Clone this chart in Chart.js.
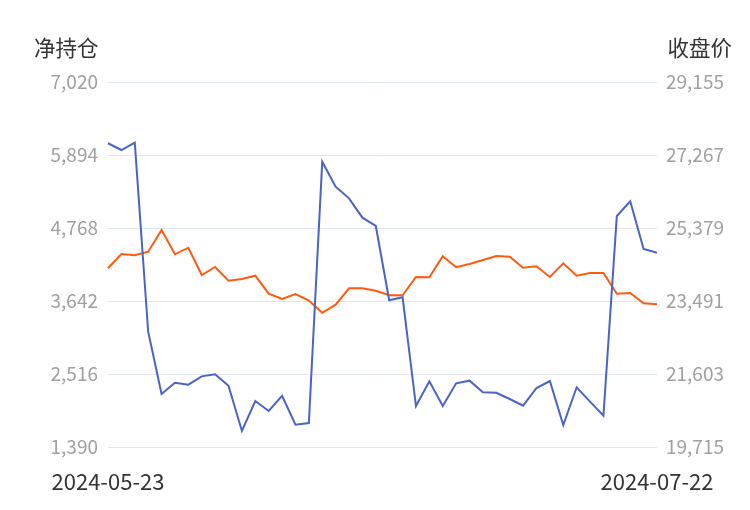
<!DOCTYPE html>
<html>
<head>
<meta charset="utf-8">
<script src="https://cdn.jsdelivr.net/npm/chart.js@4/dist/chart.umd.min.js"></script>
<style>
    html, body { margin: 0; padding: 0; background: #fff; }
    #wrap { width: 750px; height: 510px; }
</style>
</head>
<body>
<div id="wrap"><canvas id="chart" width="750" height="510"></canvas></div>
<script>
// trading days 2024-05-23 .. 2024-07-22
const dates = [
    '2024-05-23', '2024-05-24', '2024-05-27', '2024-05-28', '2024-05-29', '2024-05-30', '2024-05-31',
    '2024-06-03', '2024-06-04', '2024-06-05', '2024-06-06', '2024-06-07',
    '2024-06-11', '2024-06-12', '2024-06-13', '2024-06-14',
    '2024-06-17', '2024-06-18', '2024-06-19', '2024-06-20', '2024-06-21',
    '2024-06-24', '2024-06-25', '2024-06-26', '2024-06-27', '2024-06-28',
    '2024-07-01', '2024-07-02', '2024-07-03', '2024-07-04', '2024-07-05',
    '2024-07-08', '2024-07-09', '2024-07-10', '2024-07-11', '2024-07-12',
    '2024-07-15', '2024-07-16', '2024-07-17', '2024-07-18', '2024-07-19',
    '2024-07-22'
];

// 净持仓 (left axis)
const netPosition = [
    6075, 5971, 6084, 3168, 2207, 2382, 2351, 2480, 2511, 2335,
    1637, 2099, 1945, 2181, 1734, 1760, 5791, 5405, 5226, 4927,
    4799, 3653, 3699, 2022, 2403, 2022, 2372, 2413, 2234, 2226,
    2130, 2027, 2300, 2408, 1729, 2311, 2089, 1873, 4953, 5180,
    4444, 4387
];

// 收盘价 (right axis)
const closePrice = [
    24337, 24707, 24673, 24766, 25327, 24699, 24869, 24163, 24370, 24016,
    24060, 24145, 23680, 23543, 23672, 23504, 23186, 23395, 23819, 23819,
    23757, 23638, 23638, 24112, 24104, 24647, 24363, 24448, 24551, 24655,
    24637, 24352, 24388, 24112, 24466, 24145, 24215, 24215, 23680, 23698,
    23431, 23406
];

const leftTicks = [1390, 2516, 3642, 4768, 5894, 7020];
const rightTicks = [19715, 21603, 23491, 25379, 27267, 29155];

const fontFamily = '"Noto Sans CJK SC", "Noto Sans", sans-serif';

// axis names above the y axes
const axisNames = {
    id: 'axisNames',
    afterDraw(chart) {
        const ctx = chart.ctx;
        ctx.save();
        ctx.font = '21.5px ' + fontFamily;
        ctx.fillStyle = '#333';
        ctx.textBaseline = 'middle';
        ctx.textAlign = 'left';
        ctx.fillText('净持仓', 34, 48);
        ctx.textAlign = 'right';
        ctx.fillText('收盘价', 732, 48);
        ctx.restore();
    }
};

function fixedTicks(values) {
    return function (scale) {
        scale.ticks = values.map(v => ({ value: v }));
    };
}

new Chart(document.getElementById('chart'), {
    type: 'line',
    data: {
        labels: dates,
        datasets: [
            {
                label: '净持仓',
                data: netPosition,
                yAxisID: 'y',
                borderColor: '#4a63c7',
                borderWidth: 2,
                pointRadius: 0,
                tension: 0
            },
            {
                label: '收盘价',
                data: closePrice,
                yAxisID: 'y1',
                borderColor: '#ff5a0e',
                borderWidth: 2,
                pointRadius: 0,
                tension: 0
            }
        ]
    },
    options: {
        responsive: false,
        animation: false,
        layout: { padding: { top: 82, left: 0, right: 0, bottom: 0 } },
        plugins: {
            legend: { display: false },
            tooltip: { enabled: false }
        },
        scales: {
            x: {
                grid: { display: false, drawTicks: false },
                border: { display: false },
                afterFit(scale) { scale.height = 63; },
                ticks: {
                    autoSkip: false,
                    maxRotation: 0,
                    padding: 21,
                    color: '#333',
                    font: { family: fontFamily, size: 22 },
                    callback(value, index) {
                        return (index === 0 || index === dates.length - 1) ? dates[index] : '';
                    }
                }
            },
            y: {
                position: 'left',
                min: 1390,
                max: 7020,
                afterBuildTicks: fixedTicks(leftTicks),
                afterFit(scale) { scale.width = 108; },
                grid: { color: '#e0e6f1', drawTicks: false },
                border: { display: false },
                ticks: {
                    padding: 10,
                    color: '#a0a0a0',
                    font: { family: fontFamily, size: 19 },
                    callback: v => v.toLocaleString('en-US')
                }
            },
            y1: {
                position: 'right',
                min: 19715,
                max: 29155,
                afterBuildTicks: fixedTicks(rightTicks),
                afterFit(scale) { scale.width = 93; },
                grid: { display: false, drawTicks: false },
                border: { display: false },
                ticks: {
                    padding: 9,
                    color: '#a0a0a0',
                    font: { family: fontFamily, size: 19 },
                    callback: v => v.toLocaleString('en-US')
                }
            }
        }
    },
    plugins: [axisNames]
});
</script>
</body>
</html>
